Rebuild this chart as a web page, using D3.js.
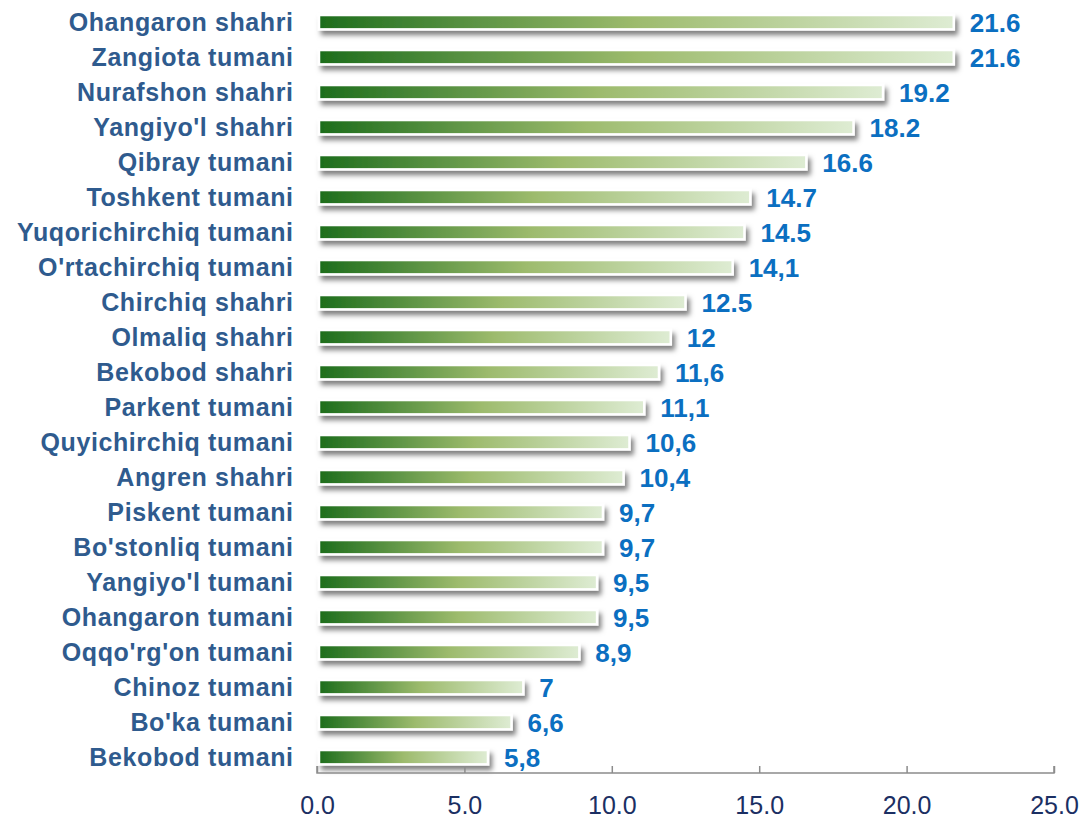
<!DOCTYPE html>
<html><head><meta charset="utf-8">
<script src="https://cdn.jsdelivr.net/npm/d3@7"></script>
<style>body{margin:0;background:#fff;}svg{display:block;font-family:"Liberation Sans",Arial,sans-serif;}</style>
</head><body>
<script>
const categories = ["Ohangaron shahri","Zangiota tumani","Nurafshon shahri","Yangiyo'l shahri","Qibray tumani","Toshkent tumani","Yuqorichirchiq tumani","O'rtachirchiq tumani","Chirchiq shahri","Olmaliq shahri","Bekobod shahri","Parkent tumani","Quyichirchiq tumani","Angren shahri","Piskent tumani","Bo'stonliq tumani","Yangiyo'l tumani","Ohangaron tumani","Oqqo'rg'on tumani","Chinoz tumani","Bo'ka tumani","Bekobod tumani"];
const values = [21.6,21.6,19.2,18.2,16.6,14.7,14.5,14.1,12.5,12,11.6,11.1,10.6,10.4,9.7,9.7,9.5,9.5,8.9,7,6.6,5.8];
const valueLabels = ["21.6","21.6","19.2","18.2","16.6","14.7","14.5","14,1","12.5","12","11,6","11,1","10,6","10,4","9,7","9,7","9,5","9,5","8,9","7","6,6","5,8"];
const xTicks = [0,5,10,15,20,25];

const W = 1092, H = 819;
const svg = d3.select("body").append("svg").attr("width", W).attr("height", H);
const defs = svg.append("defs");
const grad = defs.append("linearGradient").attr("id","g").attr("x1","0").attr("x2","1").attr("y1","0").attr("y2","0");
grad.append("stop").attr("offset","0").attr("stop-color","#1d6d1c");
grad.append("stop").attr("offset","0.5").attr("stop-color","#9dbb6d");
grad.append("stop").attr("offset","1").attr("stop-color","#deecd3");
const f = defs.append("filter").attr("id","sh").attr("x","-0.1").attr("y","-0.5").attr("width","1.2").attr("height","2.4");
f.append("feDropShadow").attr("dx",3).attr("dy",4.5).attr("stdDeviation",2.4).attr("flood-color","#000").attr("flood-opacity",0.5);

const x = d3.scaleLinear().domain([0,25]).range([317,1054]);
const y = d3.scaleBand().domain(categories).range([4.7,774.7]).paddingInner(0.59).paddingOuter(0.295);

const bars = svg.append("g");
bars.selectAll("rect").data(values).join("rect")
  .attr("x", x(0)+2)
  .attr("y", (d,i)=>y(categories[i]))
  .attr("width", d=>x(d)-x(0)-2)
  .attr("height", y.bandwidth())
  .attr("fill","url(#g)")
  .attr("stroke","#fff").attr("stroke-width",2.5)
  .attr("filter","url(#sh)");

svg.append("g").selectAll("text").data(values).join("text")
  .attr("x", d=>x(d)+16)
  .attr("y", (d,i)=>y(categories[i])+y.bandwidth()/2)
  .attr("dy","0.36em")
  .attr("fill","#0b6fc1").attr("font-weight","bold").attr("font-size",26)
  .text((d,i)=>valueLabels[i]);

svg.append("g").selectAll("text").data(categories).join("text")
  .attr("x", 293.6)
  .attr("y", d=>y(d)+y.bandwidth()/2)
  .attr("dy","0.36em")
  .attr("text-anchor","end")
  .attr("letter-spacing","0.6px")
  .attr("fill","#2f5b8e").attr("font-weight","bold").attr("font-size",25)
  .text(d=>d);

const ax = svg.append("g").attr("transform","translate(0,773)")
  .call(d3.axisBottom(x).tickValues(xTicks).tickFormat(d3.format(".1f")).tickSize(-7).tickPadding(12));
ax.select(".domain").attr("stroke","#8c8c8c").attr("stroke-width",1.5).attr("d","M317,-7V0H1054V-7");
ax.selectAll(".tick line").attr("stroke","#8c8c8c").attr("stroke-width",1.5);
ax.selectAll(".tick text").attr("fill","#1b2f63").attr("font-size",25).attr("font-family","'Liberation Sans',Arial,sans-serif").attr("dy","0.71em").attr("y",23);
</script>
</body></html>
